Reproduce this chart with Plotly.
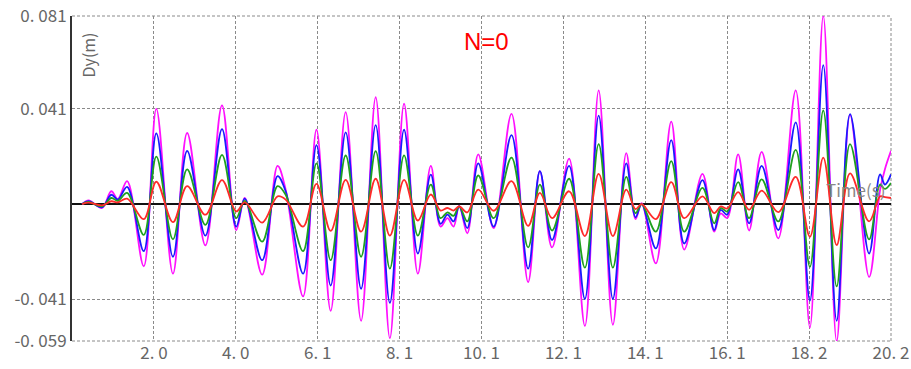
import plotly.graph_objects as go

# time of each read extremum (s)
t = [0.25, 0.41, 0.74, 0.97, 1.13, 1.36, 1.77, 2.08, 2.49, 2.84, 3.29, 3.70, 4.05, 4.26,
     4.69, 5.07, 5.27, 5.70, 6.03, 6.38, 6.75, 7.13, 7.49, 7.84, 8.19, 8.53, 8.85, 9.09,
     9.26, 9.41, 9.55, 9.75, 10.02, 10.40, 10.84, 11.25, 11.54, 11.84, 12.26, 12.65, 12.99,
     13.34, 13.67, 13.90, 14.05, 14.40, 14.78, 15.10, 15.55, 15.84, 16.00, 16.16, 16.43,
     16.70, 17.01, 17.42, 17.85, 18.20, 18.53, 18.86, 19.19, 19.66, 19.93, 20.05, 20.2]

magenta = [0.0, 0.0016, -0.0017, 0.0055, 0.0022, 0.0099, -0.0268, 0.0410, -0.0300, 0.0306,
           -0.0178, 0.0425, -0.0112, 0.0026, -0.0304, 0.0164, 0.0062, -0.0398, 0.0320, -0.0460,
           0.0396, -0.0503, 0.0460, -0.0578, 0.0432, -0.0300, 0.0164, -0.0097, -0.0061, -0.0097,
           -0.0007, -0.0126, 0.0214, -0.0104, 0.0388, -0.0336, 0.0142, -0.0187, 0.0196, -0.0525,
           0.0490, -0.0520, 0.0219, -0.0065, 0.0004, -0.0256, 0.0355, -0.0196, 0.0130, -0.0119,
           -0.0040, -0.0060, 0.0214, -0.0114, 0.0225, -0.0148, 0.0490, -0.0532, 0.0810, -0.0590,
           0.0384, -0.0314, 0.0060, 0.0150, 0.0229]

blue = [0.0, 0.0012, -0.0014, 0.0040, 0.0019, 0.0074, -0.0203, 0.0304, -0.0227, 0.0229,
        -0.0136, 0.0323, -0.0097, 0.0023, -0.0242, 0.0120, 0.0055, -0.0300, 0.0254, -0.0351,
        0.0309, -0.0365, 0.0340, -0.0426, 0.0320, -0.0213, 0.0127, -0.0085, -0.0046, -0.0075,
        -0.0010, -0.0104, 0.0175, -0.0097, 0.0297, -0.0278, 0.0142, -0.0155, 0.0164, -0.0409,
        0.0381, -0.0409, 0.0175, -0.0057, 0.0000, -0.0191, 0.0275, -0.0170, 0.0103, -0.0112,
        -0.0025, -0.0046, 0.0149, -0.0083, 0.0164, -0.0112, 0.0352, -0.0416, 0.0598, -0.0503,
        0.0387, -0.0213, 0.0128, 0.0084, 0.0128]

green = [0.0, 0.0009, -0.0010, 0.0026, 0.0014, 0.0048, -0.0133, 0.0204, -0.0152, 0.0149,
         -0.0090, 0.0212, -0.0061, 0.0014, -0.0162, 0.0077, 0.0040, -0.0203, 0.0175, -0.0242,
         0.0209, -0.0227, 0.0228, -0.0278, 0.0210, -0.0136, 0.0084, -0.0061, -0.0036, -0.0051,
         -0.0010, -0.0075, 0.0123, -0.0061, 0.0200, -0.0187, 0.0084, -0.0114, 0.0109, -0.0274,
         0.0258, -0.0274, 0.0117, -0.0039, 0.0000, -0.0119, 0.0185, -0.0119, 0.0070, -0.0083,
         -0.0017, -0.0032, 0.0094, -0.0061, 0.0106, -0.0075, 0.0233, -0.0271, 0.0403, -0.0355,
         0.0258, -0.0152, 0.0084, 0.0065, 0.0091]

red = [0.0, 0.0006, -0.0006, 0.0012, 0.0007, 0.0023, -0.0065, 0.0096, -0.0078, 0.0077,
       -0.0046, 0.0103, -0.0032, 0.0007, -0.0080, 0.0033, 0.0019, -0.0097, 0.0087, -0.0116,
       0.0104, -0.0119, 0.0109, -0.0136, 0.0104, -0.0071, 0.0041, -0.0028, -0.0017, -0.0028,
       -0.0010, -0.0036, 0.0062, -0.0029, 0.0099, -0.0094, 0.0048, -0.0061, 0.0055, -0.0138,
       0.0130, -0.0138, 0.0062, -0.0022, 0.0000, -0.0065, 0.0094, -0.0061, 0.0033, -0.0039,
       -0.0010, -0.0019, 0.0051, -0.0025, 0.0058, -0.0035, 0.0117, -0.0141, 0.0200, -0.0177,
       0.0132, -0.0075, 0.0033, 0.0030, 0.0026]

x_tickvals = [2.02, 4.04, 6.06, 8.08, 10.1, 12.12, 14.14, 16.16, 18.18, 20.2]
x_ticktext = ["2. 0", "4. 0", "6. 1", "8. 1", "10. 1", "12. 1", "14. 1", "16. 1", "18. 2", "20. 2"]
y_tickvals = [0.081, 0.041, -0.041, -0.059]
y_ticktext = ["0. 081", "0. 041", "-0. 041", "-0. 059"]

series = [("magenta", magenta, "#ff10ff"), ("blue", blue, "#1a1aff"),
          ("green", green, "#1fa01f"), ("red", red, "#ff2a2a")]

fig = go.Figure()
for name, ys, col in series:
    fig.add_trace(go.Scatter(x=t, y=ys, mode="lines", name=name,
                             line=dict(color=col, width=1.8, shape="spline", smoothing=1.0)))

tickfont = dict(family="Noto Sans CJK JP, DejaVu Sans", size=17, color="#666666")
fig.update_layout(
    width=911, height=369,
    margin=dict(l=72, r=20, t=16, b=28),
    paper_bgcolor="white", plot_bgcolor="white",
    showlegend=False,
    xaxis=dict(range=[0, 20.2], tickvals=x_tickvals, ticktext=x_ticktext, automargin=False,
               showgrid=True, gridcolor="#8a8a8a", griddash="3px,2px", gridwidth=1,
               zeroline=False, showline=False, ticks="", tickfont=tickfont),
    yaxis=dict(range=[-0.059, 0.081], tickvals=y_tickvals, ticktext=y_ticktext, automargin=False,
               showgrid=True, gridcolor="#8a8a8a", griddash="3px,2px", gridwidth=1,
               zeroline=True, zerolinecolor="#111111", zerolinewidth=2,
               showline=True, linecolor="#333333", linewidth=2, ticks="",
               tickfont=tickfont),
)
# dashed frame on top / right / bottom
for x0, y0, x1, y1 in [(0, 1, 1, 1), (1, 0, 1, 1), (0, 0, 1, 0)]:
    fig.add_shape(type="line", xref="paper", yref="paper", x0=x0, y0=y0, x1=x1, y1=y1,
                  line=dict(color="#8a8a8a", width=1, dash="3px,2px"), layer="below")

fig.add_annotation(text="Dy(m)", xref="paper", yref="paper", x=0.003, y=0.88,
                   xanchor="left", yanchor="middle", textangle=-90, showarrow=False,
                   font=dict(family="Noto Sans CJK JP, DejaVu Sans", size=16, color="#666666"))
fig.add_annotation(text="N=0", xref="paper", yref="paper", x=0.506, y=0.92,
                   xanchor="center", yanchor="middle", showarrow=False,
                   font=dict(family="Liberation Sans, Arial", size=24, color="#ff0000"))
fig.add_annotation(text="Time(s)", xref="x", yref="y", x=20.1, y=0.0002,
                   xanchor="right", yanchor="bottom", showarrow=False,
                   font=dict(family="Noto Sans CJK JP, DejaVu Sans", size=17, color="#888888"))

fig.write_html("out.html")
